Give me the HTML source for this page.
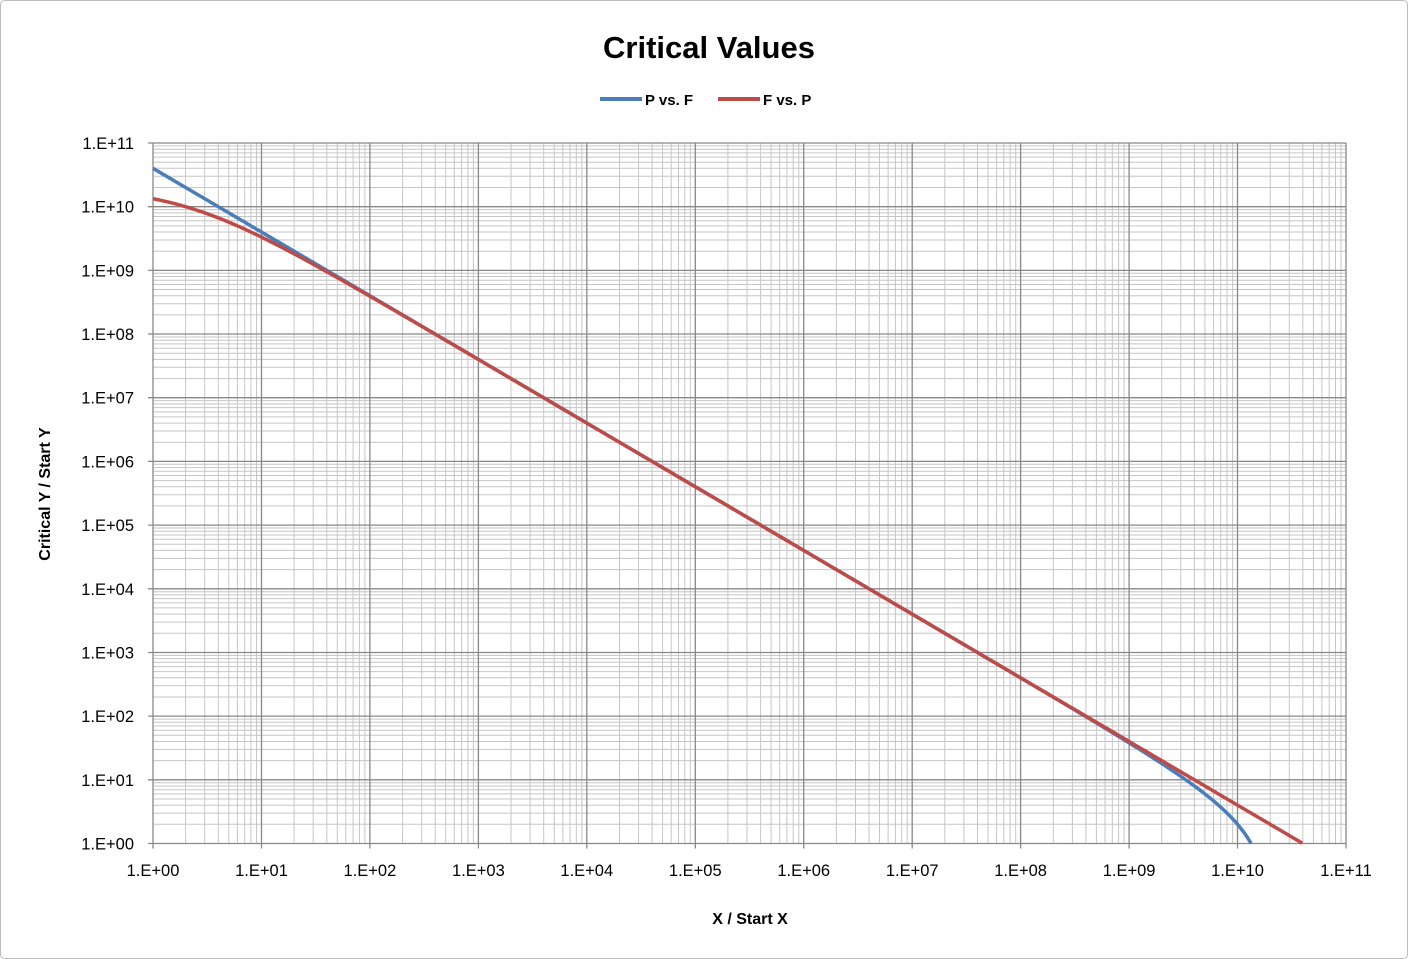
<!DOCTYPE html>
<html><head><meta charset="utf-8"><style>
html,body{margin:0;padding:0;background:#fff}
svg{display:block;font-family:"Liberation Sans",Arial,sans-serif}
</style></head><body>
<svg id="s" width="1408" height="959" viewBox="0 0 1408 959" xmlns="http://www.w3.org/2000/svg">
<rect x="0.5" y="0.5" width="1407" height="958" rx="4" fill="#fff" stroke="#bcbcbc"/>
<text x="709" y="58" text-anchor="middle" font-size="31" font-weight="bold" fill="#000">Critical Values</text>
<line x1="600" y1="99" x2="642" y2="99" stroke="#4a7ebb" stroke-width="4"/>
<text x="645" y="105" font-size="15" font-weight="bold">P vs. F</text>
<line x1="718" y1="99" x2="760" y2="99" stroke="#be4b48" stroke-width="4"/>
<text x="763" y="105" font-size="15" font-weight="bold">F vs. P</text>
<g id="grid"></g>
<g id="labels" font-size="16.5" fill="#000"></g>
<text x="750" y="924" text-anchor="middle" font-size="16" font-weight="bold">X / Start X</text>
<text transform="translate(50,494) rotate(-90)" text-anchor="middle" font-size="16" font-weight="bold">Critical Y / Start Y</text>
<path id="blue" fill="none" stroke="#4a7ebb" stroke-width="3.5"/>
<path id="red" fill="none" stroke="#be4b48" stroke-width="3.5"/>
</svg>
<script>
var L=153,R=1346,T=143,B=843.5,dx=(R-L)/11,dy=(B-T)/11;
var g='',lab='';
function X(l){return L+l*dx} function Y(l){return B-l*dy}
for(var d=0;d<11;d++){for(var k=2;k<10;k++){var o=Math.log10(k);
 var x=X(d+o).toFixed(1),y=Y(d+o).toFixed(1);
 g+='<line x1="'+x+'" y1="'+T+'" x2="'+x+'" y2="'+B+'" stroke="#c6c6c6" stroke-width="1"/>';
 g+='<line x1="'+L+'" y1="'+y+'" x2="'+R+'" y2="'+y+'" stroke="#c6c6c6" stroke-width="1"/>';}}
for(var d=0;d<=11;d++){var x=X(d).toFixed(1),y=Y(d).toFixed(1);
 g+='<line x1="'+x+'" y1="'+T+'" x2="'+x+'" y2="'+(B+5)+'" stroke="#888" stroke-width="1.3"/>';
 g+='<line x1="'+(L-5)+'" y1="'+y+'" x2="'+R+'" y2="'+y+'" stroke="#888" stroke-width="1.3"/>';
 var s='1.E'+(d<10?'+0':'+')+d;
 lab+='<text x="'+x+'" y="876" text-anchor="middle">'+s+'</text>';
 lab+='<text x="134" y="'+(+y+6)+'" text-anchor="end">'+s+'</text>';}
document.getElementById('grid').innerHTML=g;
document.getElementById('labels').innerHTML=lab;
var pb='',pr='',done=false;
for(var i=0;i<=600;i++){var lx=i/600*11,x=Math.pow(10,lx);
 var yb=4e10/x-2; if(yb>=1){pb+=(pb?'L':'M')+X(lx).toFixed(1)+','+Y(Math.log10(yb)).toFixed(1);}
 else if(!done){done=true;pb+='L'+X(Math.log10(4e10/3)).toFixed(1)+','+B;}
 var yr=4e10/(x+2); if(yr>=1){pr+=(pr?'L':'M')+X(lx).toFixed(1)+','+Y(Math.log10(yr)).toFixed(1);}
}
document.getElementById('blue').setAttribute('d',pb);
document.getElementById('red').setAttribute('d',pr);
</script>
</body></html>
